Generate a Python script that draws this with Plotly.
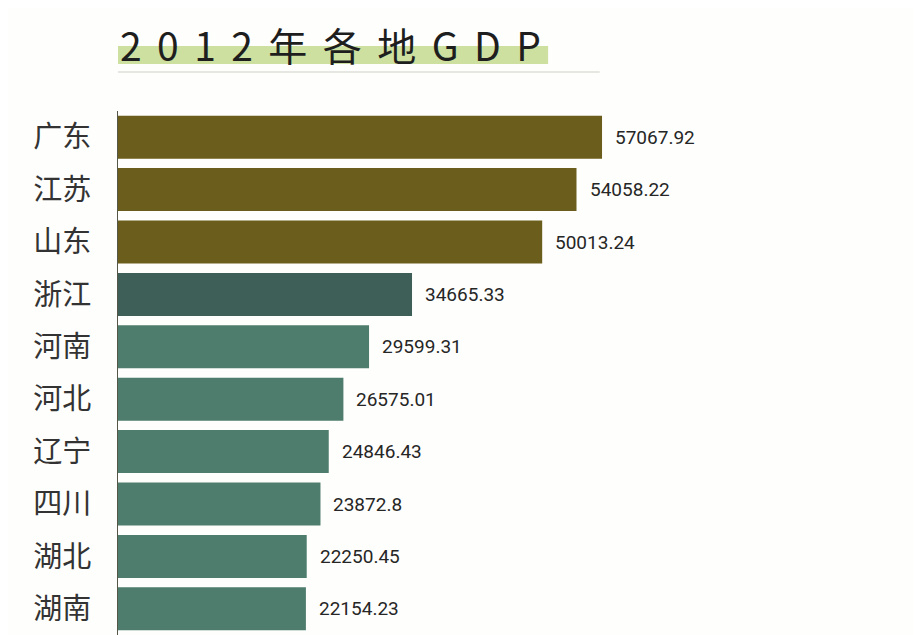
import plotly.graph_objects as go

provinces = ["广东", "江苏", "山东", "浙江", "河南", "河北", "辽宁", "四川", "湖北", "湖南"]
gdp = [57067.92, 54058.22, 50013.24, 34665.33, 29599.31, 26575.01, 24846.43, 23872.8, 22250.45, 22154.23]
bar_colors = ["#6b5e1d", "#6b5e1d", "#6b5e1d", "#3e5f58", "#4e7c6d",
              "#4e7c6d", "#4e7c6d", "#4e7c6d", "#4e7c6d", "#4e7c6d"]
title_text = "2012年各地GDP"

# page has an 8px body margin, so figure coords = screen coords - 8
OFF = 8
W, H = 921, 635
L, R, T, B = 118 - OFF, 29, 111 - OFF, OFF
plot_h = H - T - B


def py(px):
    # screen pixel y (from top) -> paper y
    return (H - B - (px - OFF)) / plot_h


fig = go.Figure(go.Bar(
    x=gdp, y=provinces, orientation="h",
    marker=dict(color=bar_colors, line=dict(width=0)),
    hoverinfo="x+y",
))

for p, v in zip(provinces, gdp):
    fig.add_annotation(x=v, y=p, xref="x", yref="y", text=str(v), showarrow=False,
                       xanchor="left", xshift=11,
                       font=dict(family="Roboto, Noto Sans", size=19, color="#262626"))

spaced = "\u2004\u200a".join(title_text)
fig.add_annotation(x=0, y=py(44), xref="paper", yref="paper", text=spaced, showarrow=False,
                   xanchor="left", yanchor="middle",
                   font=dict(family="Noto Sans CJK SC", size=39, color="#1e1e1e"))

fig.update_layout(
    width=W, height=H,
    margin=dict(l=L, r=R, t=T, b=B),
    paper_bgcolor="#fefefc", plot_bgcolor="#fefefc",
    bargap=0.18, showlegend=False,
    shapes=[
        dict(type="rect", xref="paper", yref="paper", x0=0, x1=0.55, y0=py(64), y1=py(46),
             fillcolor="#cde0a0", line=dict(width=0), layer="below"),
        dict(type="line", xref="paper", yref="paper", x0=0, x1=0.616, y0=py(72), y1=py(72),
             line=dict(color="#e6e6e2", width=2)),
    ],
    xaxis=dict(range=[0, 92200], showgrid=False, zeroline=False, showticklabels=False, showline=False),
    yaxis=dict(autorange="reversed", showgrid=False, zeroline=False, showline=True,
               linecolor="#555548", linewidth=1, ticks="", ticklabelstandoff=20,
               tickfont=dict(family="Noto Sans CJK SC", size=29, color="#333333")),
)

fig.write_html("out.html")
